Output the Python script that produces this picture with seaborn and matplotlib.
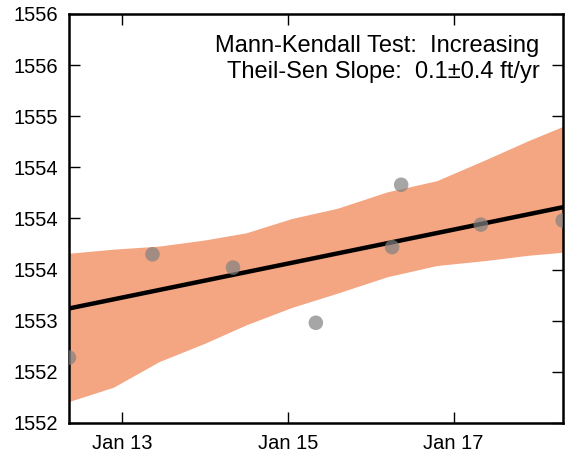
import pandas as pd
import numpy as np
import matplotlib
matplotlib.use('Agg')
import matplotlib.pyplot as plt
import matplotlib.dates as mdates
from matplotlib.ticker import FormatStrFormatter
import seaborn as sns

# data
obs_dates = ['2012-05-12', '2013-05-15', '2014-05-05', '2015-05-05',
             '2016-04-05', '2016-05-15', '2017-05-01', '2018-04-27']
obs_elev = [1552.64, 1553.65, 1553.52, 1552.98, 1553.72, 1554.33, 1553.94, 1553.98]

band_dates = ['2012-05-12', '2012-11-24', '2013-06-13', '2014-01-01', '2014-07-02', '2015-01-19',
              '2015-08-08', '2016-03-14', '2016-10-19', '2017-05-27', '2017-11-25', '2018-04-27']
band_upper = [1553.66, 1553.70, 1553.73, 1553.79, 1553.86, 1554.00,
              1554.10, 1554.26, 1554.37, 1554.58, 1554.76, 1554.90]
band_lower = [1552.21, 1552.35, 1552.60, 1552.78, 1552.96, 1553.13,
              1553.27, 1553.43, 1553.54, 1553.59, 1553.64, 1553.67]

trend_dates = ['2012-05-12', '2018-04-27']
trend_elev = [1553.12, 1554.11]

xtick_dates = ['2013-01-01', '2015-01-01', '2017-01-01']
ytick_vals = [1552, 1552.5, 1553, 1553.5, 1554, 1554.5, 1555, 1555.5, 1556]

obs = pd.DataFrame({'date': pd.to_datetime(obs_dates), 'elev': obs_elev})
band = pd.DataFrame({'date': pd.to_datetime(band_dates), 'upper': band_upper, 'lower': band_lower})
trend = pd.DataFrame({'date': pd.to_datetime(trend_dates), 'elev': trend_elev})

sns.set_style('ticks')
plt.rcParams['font.family'] = ['Liberation Sans', 'DejaVu Sans']
plt.rcParams['text.color'] = 'black'

fig = plt.figure(figsize=(5.65, 4.57), dpi=100)
ax = fig.add_axes([0.122, 0.0744, 0.874, 0.895])

ax.fill_between(band['date'], band['lower'], band['upper'], color='#f4a582', lw=0, zorder=1)
sns.lineplot(data=trend, x='date', y='elev', color='black', lw=3.2, ax=ax, zorder=2)
sns.scatterplot(data=obs, x='date', y='elev', color='#808080', alpha=0.7, s=110,
                edgecolor='none', ax=ax, zorder=3)

ax.set_xlim(obs['date'].iloc[0], obs['date'].iloc[-1])
ax.set_ylim(1552, 1556)
ax.set_xticks(pd.to_datetime(xtick_dates))
ax.xaxis.set_major_formatter(mdates.DateFormatter('%b %y'))
ax.set_yticks(ytick_vals)
ax.yaxis.set_major_formatter(FormatStrFormatter('%.0f'))
ax.set_xlabel('')
ax.set_ylabel('')

ax.tick_params(direction='in', length=8, width=1, labelsize=14.5, colors='black',
               top=True, right=True, pad=8)
for sp in ax.spines.values():
    sp.set_linewidth(1.8)
    sp.set_color('black')

ax.text(0.953, 0.89, 'Mann-Kendall Test:  Increasing\nTheil-Sen Slope:  0.1\u00b10.4 ft/yr',
        transform=ax.transAxes, ha='right', va='center', multialignment='right',
        fontsize=17, linespacing=1.2, color='black')

fig.savefig('out.png', dpi=100)
